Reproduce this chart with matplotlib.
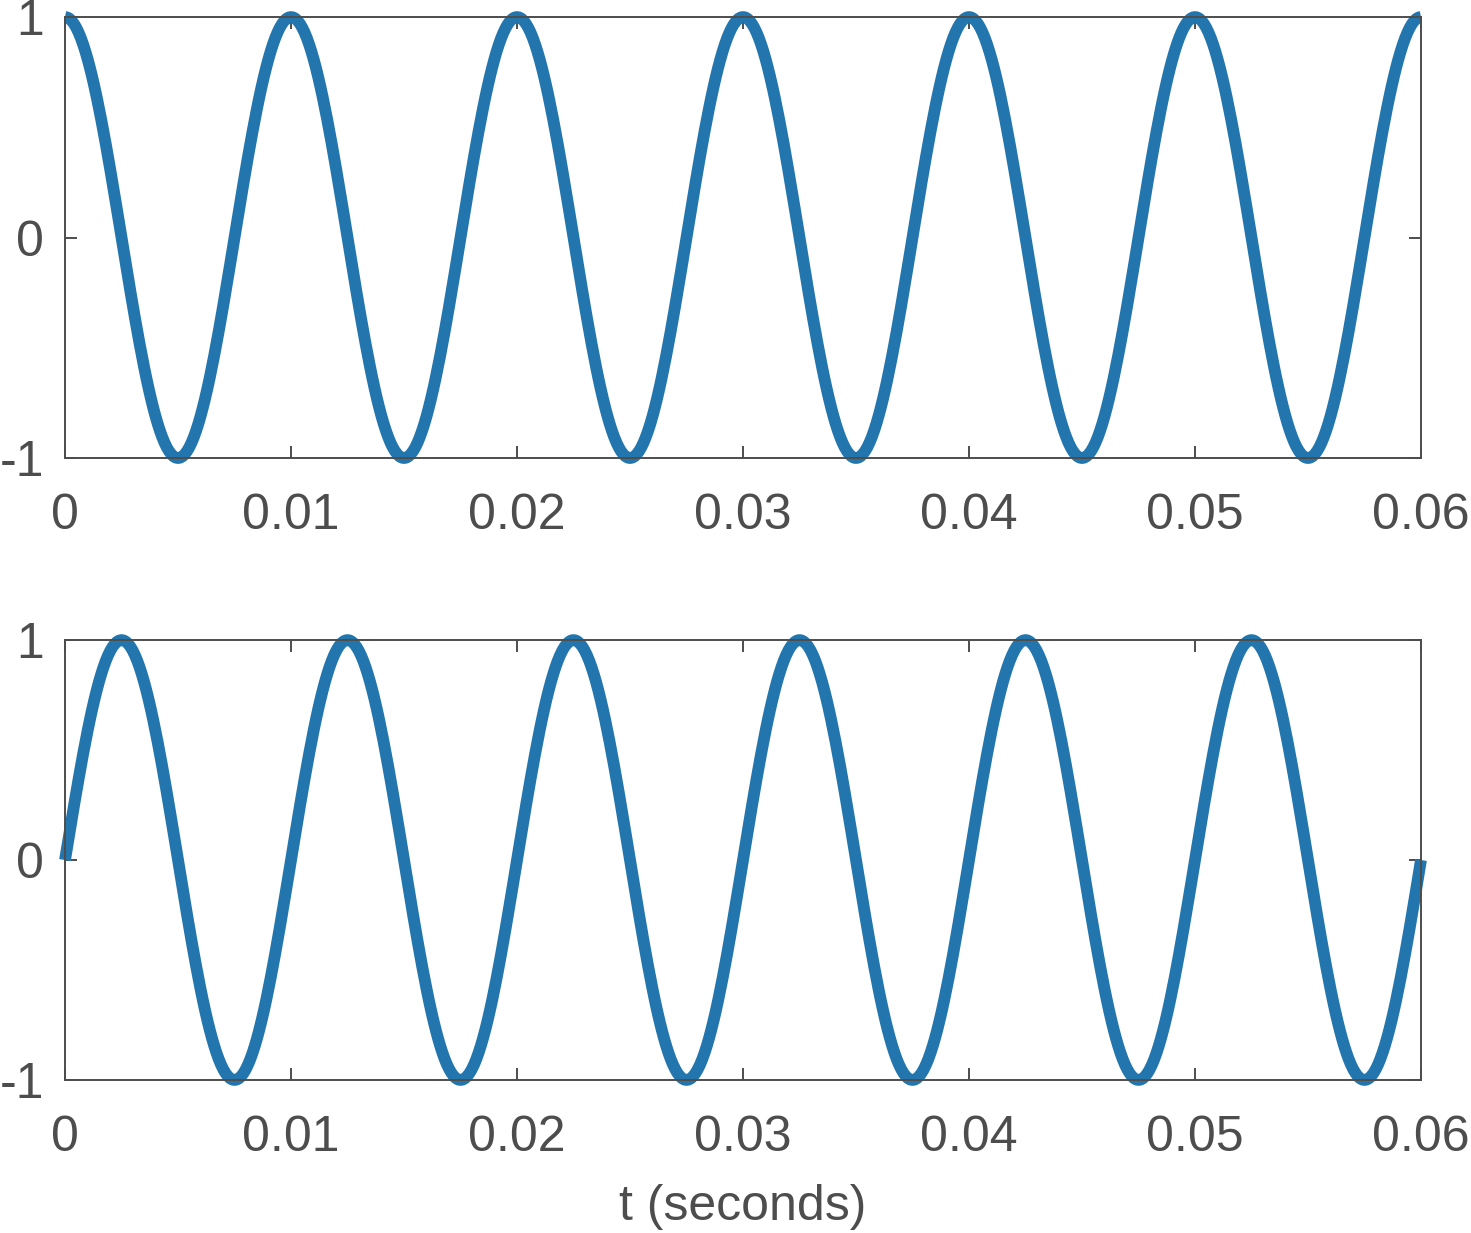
import matplotlib.pyplot as plt
import numpy as np

# signal parameters
freq = 100.0          # Hz (period 0.01 s)
amp = 1.0
t_start, t_end = 0.0, 0.06
n_samples = 601
xticks = [0, 0.01, 0.02, 0.03, 0.04, 0.05, 0.06]
xticklabels = ['0', '0.01', '0.02', '0.03', '0.04', '0.05', '0.06']
yticks = [-1, 0, 1]
yticklabels = ['-1', '0', '1']
xlabel = 't (seconds)'

t = np.linspace(t_start, t_end, n_samples)
signals = [amp * np.cos(2 * np.pi * freq * t),
           amp * np.sin(2 * np.pi * freq * t)]

plt.rcParams['font.family'] = ['Liberation Sans', 'DejaVu Sans']
gray = '#4d4d4d'
blue = '#2276ad'

fig = plt.figure(figsize=(14.71, 12.33), dpi=100)
boxes = [[0.0442, 0.6285, 0.9218, 0.3577],
         [0.0442, 0.1241, 0.9218, 0.3568]]

for box, y in zip(boxes, signals):
    ax = fig.add_axes(box)
    ax.plot(t, y, color=blue, linewidth=8.5, solid_capstyle='butt', clip_on=False)
    ax.set_xlim(t_start, t_end)
    ax.set_ylim(-1, 1)
    ax.set_xticks(xticks)
    ax.set_xticklabels(xticklabels)
    ax.set_yticks(yticks)
    ax.set_yticklabels(yticklabels)
    for s in ax.spines.values():
        s.set_color(gray)
        s.set_linewidth(1.4)
    ax.tick_params(axis='both', direction='in', length=8.5, width=1.4,
                   colors=gray, labelsize=36, top=True, right=True)
    ax.tick_params(axis='x', pad=25)
    ax.tick_params(axis='y', pad=15)

ax.set_xlabel(xlabel, fontsize=36, color=gray, labelpad=17)

fig.savefig('out.png', dpi=100)
